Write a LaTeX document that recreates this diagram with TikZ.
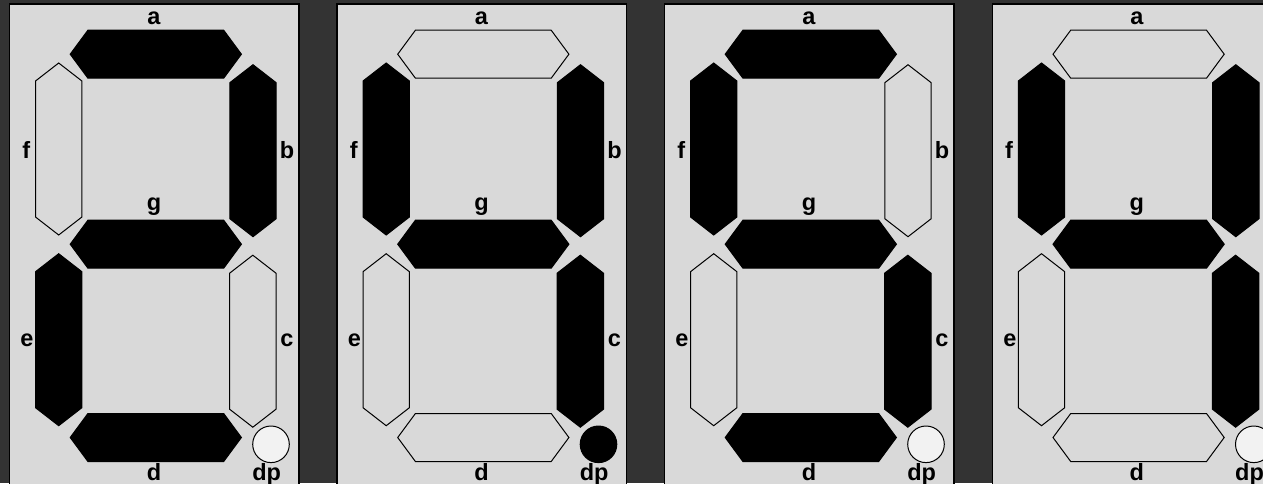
\documentclass[tikz,border=0pt]{standalone}
\usepackage{fontspec}
\setmainfont{Liberation Sans}
\definecolor{bgdark}{RGB}{51,51,51}
\definecolor{panelgray}{RGB}{217,217,217}
\definecolor{dpoff}{RGB}{242,242,242}
\tikzset{
  panelbox/.style={fill=panelgray, draw=black, line width=1.5pt},
  segon/.style={fill=black, draw=black, line width=1pt, line join=miter},
  segoff/.style={fill=panelgray, draw=black, line width=1pt, line join=miter},
  dpon/.style={fill=black, draw=black, line width=1pt},
  dpoff/.style={fill=dpoff, draw=black, line width=1pt},
  lbl/.style={font=\fontsize{23.5}{23.5}\selectfont\bfseries, inner sep=0pt, anchor=base, text=black}
}
\newcommand\hsegment[3]{%
  \path[#3, shift={(#1,#2)}] (-85.6,0) -- (-67.9,-24) -- (67.9,-24) -- (85.6,0) -- (67.9,24) -- (-67.9,24) -- cycle;}
\newcommand\vsegment[3]{%
  \path[#3, shift={(#1,#2)}] (0,-86) -- (23.2,-68) -- (23.2,68) -- (0,86) -- (-23.2,68) -- (-23.2,-68) -- cycle;}
\begin{document}
\begin{tikzpicture}[x=1pt, y=-1pt]
\useasboundingbox (0,0) rectangle (1263,483);
\clip (0,0) rectangle (1263,483);
\fill[bgdark] (0,0) rectangle (1263,483);
\foreach \px/\id/\sa/\sb/\sc/\sd/\se/\sf/\sg/\sdp in {
  9.5/p1/on/on/off/on/on/off/on/off,
  337/p2/off/on/on/off/off/on/on/on,
  664.5/p3/on/off/on/on/off/on/on/off,
  992.3/p4/off/on/on/off/off/on/on/off}{
  \begin{scope}[shift={(\px,0)}]
    \path[panelbox] (0,4) rectangle (289.5,500);
    \hsegment{146.3}{54.2}{seg\sa}
    \vsegment{243.5}{150.7}{seg\sb}
    \vsegment{243.3}{341.2}{seg\sc}
    \hsegment{146.3}{437.5}{seg\sd}
    \vsegment{49.2}{339.7}{seg\se}
    \vsegment{49.2}{149}{seg\sf}
    \hsegment{146.3}{244.2}{seg\sg}
    \path[dp\sdp] (261.5,444.3) circle (18.3);
    \node[lbl] (a-\id) at (144.5,24) {a};
    \node[lbl] (f-\id) at (16.8,158) {f};
    \node[lbl] (g-\id) at (144.5,210) {g};
    \node[lbl] (e-\id) at (17.5,346) {e};
    \node[lbl] (d-\id) at (144.5,480) {d};
    \node[lbl] (dp-\id) at (257.2,480) {dp};
  \end{scope}
}
\foreach \px/\id in {9.5/p1, 337/p2, 664.5/p3}{
  \begin{scope}[shift={(\px,0)}]
    \node[lbl] (b-\id) at (277.5,158) {b};
    \node[lbl] (c-\id) at (277.5,346) {c};
  \end{scope}
}
\end{tikzpicture}
\end{document}
